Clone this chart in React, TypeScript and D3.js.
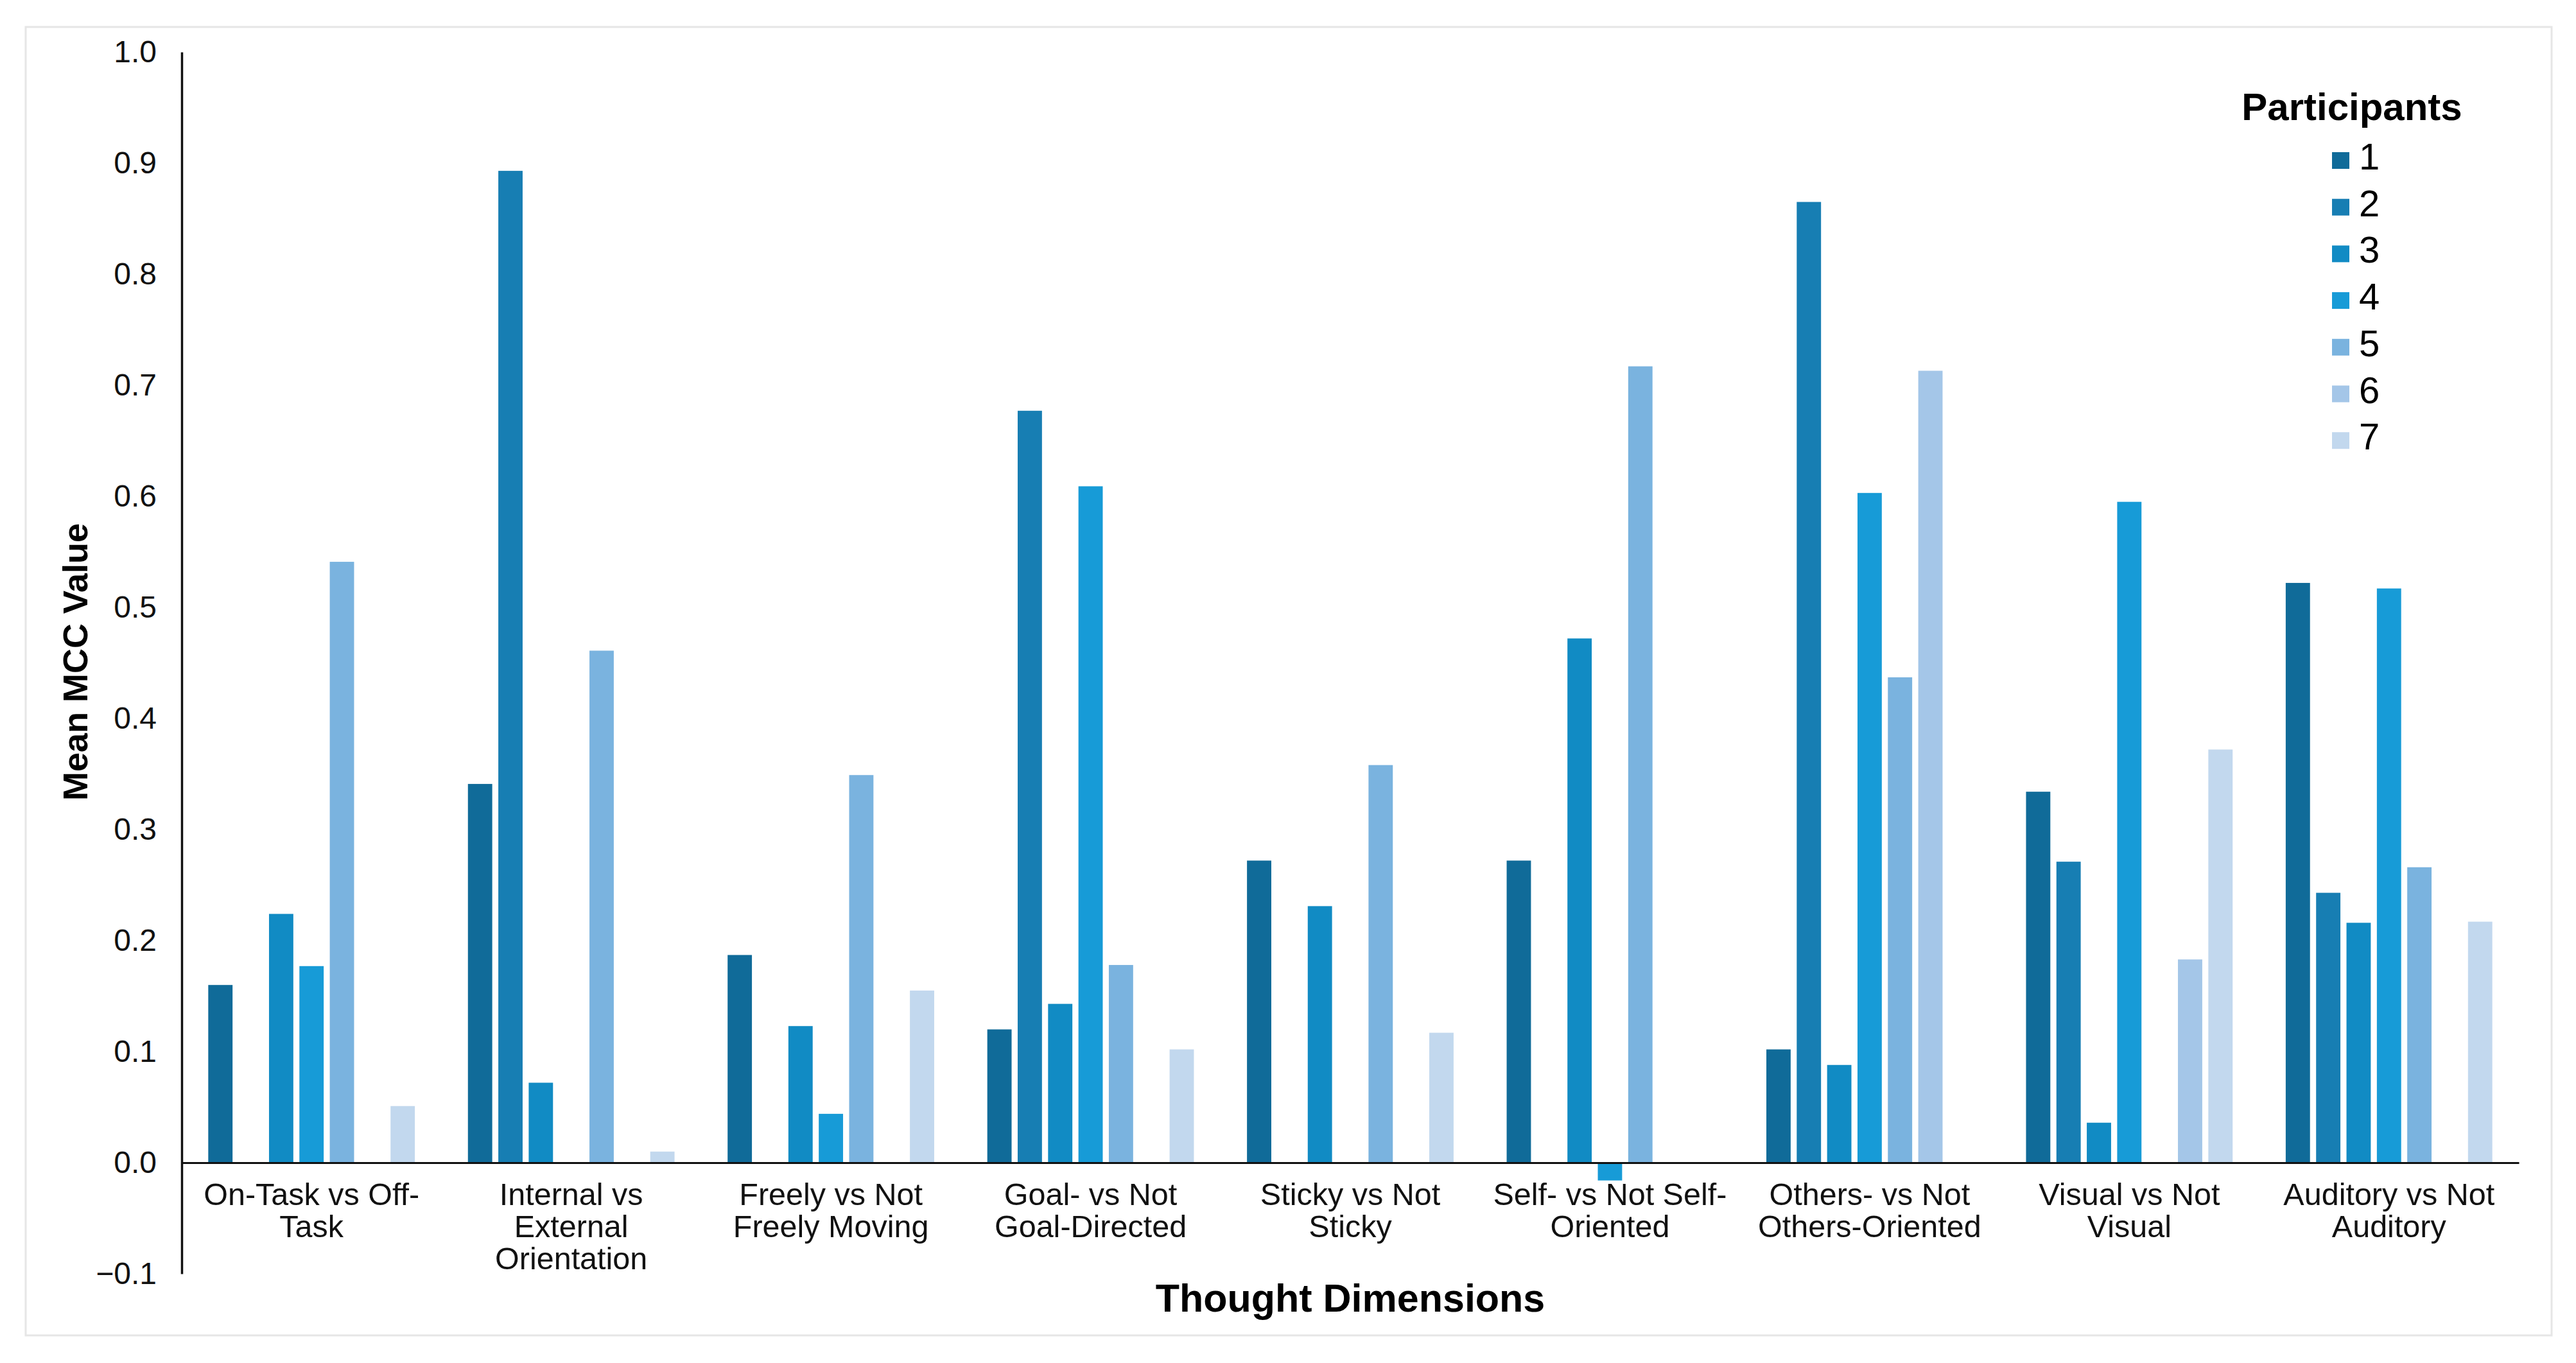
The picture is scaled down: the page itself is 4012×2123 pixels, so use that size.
import { useEffect, useRef } from 'react'
import * as d3 from 'd3'

const WIDTH = 4012
const HEIGHT = 2123

const CATEGORIES = [
  'On-Task vs Off-Task',
  'Internal vs External Orientation',
  'Freely vs Not Freely Moving',
  'Goal- vs Not Goal-Directed',
  'Sticky vs Not Sticky',
  'Self- vs Not Self-Oriented',
  'Others- vs Not Others-Oriented',
  'Visual vs Not Visual',
  'Auditory vs Not Auditory',
]

// line breaks as they appear under the axis
const CATEGORY_LINES = [
  ['On-Task vs Off-', 'Task'],
  ['Internal vs', 'External', 'Orientation'],
  ['Freely vs Not', 'Freely Moving'],
  ['Goal- vs Not', 'Goal-Directed'],
  ['Sticky vs Not', 'Sticky'],
  ['Self- vs Not Self-', 'Oriented'],
  ['Others- vs Not', 'Others-Oriented'],
  ['Visual vs Not', 'Visual'],
  ['Auditory vs Not', 'Auditory'],
]

const PARTICIPANTS = ['1', '2', '3', '4', '5', '6', '7']

// null = no bar drawn for that participant
const P1 = [0.16, 0.341, 0.187, 0.12, 0.272, 0.272, 0.102, 0.334, 0.522]
const P2 = [null, 0.893, null, 0.677, null, null, 0.865, 0.271, 0.243]
const P3 = [0.224, 0.072, 0.123, 0.143, 0.231, 0.472, 0.088, 0.036, 0.216]
const P4 = [0.177, null, 0.044, 0.609, null, -0.016, 0.603, 0.595, 0.517]
const P5 = [0.541, 0.461, 0.349, 0.178, 0.358, 0.717, 0.437, null, 0.266]
const P6 = [null, null, null, null, null, null, 0.713, 0.183, null]
const P7 = [0.051, 0.01, 0.155, 0.102, 0.117, null, null, 0.372, 0.217]

const SERIES = [P1, P2, P3, P4, P5, P6, P7]

const COLORS = ['#106b99', '#177eb3', '#118bc4', '#179bd7', '#7ab3df', '#a4c6e8', '#c2d8ee']

const Y_TICKS = [-0.1, 0, 0.1, 0.2, 0.3, 0.4, 0.5, 0.6, 0.7, 0.8, 0.9, 1.0]

const FONT = '"Liberation Sans", Arial, Helvetica, sans-serif'

interface BarDatum {
  category: string
  participant: string
  value: number
  color: string
}

export default function App() {
  const svgRef = useRef<SVGSVGElement | null>(null)

  useEffect(() => {
    if (!svgRef.current) {
      return
    }

    const svg = d3.select(svgRef.current)
    svg.selectAll('*').remove()

    const plotLeft = 283
    const plotRight = 3923

    const x0 = d3
      .scaleBand<string>()
      .domain(CATEGORIES)
      .range([plotLeft, plotRight])
      .paddingInner(0.181)
      .paddingOuter(0.0905)

    const x1 = d3
      .scaleBand<string>()
      .domain(PARTICIPANTS)
      .range([0, x0.bandwidth()])
      .paddingInner(0.2)
      .paddingOuter(0.1)

    const y = d3.scaleLinear().domain([-0.1, 1.0]).range([1984, 81])

    // outer frame
    svg
      .append('rect')
      .attr('x', 40)
      .attr('y', 42)
      .attr('width', 3934)
      .attr('height', 2038)
      .attr('fill', '#ffffff')
      .attr('stroke', '#e6e6e6')
      .attr('stroke-width', 3)

    const bars: BarDatum[] = []
    SERIES.forEach((values, si) => {
      values.forEach((value, ci) => {
        if (value === null) return
        bars.push({
          category: CATEGORIES[ci],
          participant: PARTICIPANTS[si],
          value,
          color: COLORS[si],
        })
      })
    })

    svg
      .append('g')
      .selectAll('rect.bar')
      .data(bars)
      .enter()
      .append('rect')
      .attr('class', 'bar')
      .attr('x', (d: BarDatum) => (x0(d.category) ?? 0) + (x1(d.participant) ?? 0))
      .attr('y', (d: BarDatum) => y(Math.max(d.value, 0)))
      .attr('width', x1.bandwidth())
      .attr('height', (d: BarDatum) => Math.abs(y(d.value) - y(0)))
      .attr('fill', (d: BarDatum) => d.color)

    // y axis
    const yAxis = svg
      .append('g')
      .attr('transform', `translate(${plotLeft}, 0)`)
      .call(
        d3
          .axisLeft(y)
          .tickValues(Y_TICKS)
          .tickSize(0)
          .tickPadding(39)
          .tickFormat(d3.format('.1f')),
      )
    yAxis.select('.domain').attr('stroke', '#111').attr('stroke-width', 3.5)
    yAxis
      .selectAll('text')
      .attr('font-family', FONT)
      .attr('font-size', 48)
      .attr('fill', '#111')

    // x axis line at zero
    const xAxis = svg
      .append('g')
      .attr('transform', `translate(0, ${y(0)})`)
      .call(d3.axisBottom(x0).tickSize(0).tickSizeOuter(0).tickFormat(() => ''))
    xAxis.select('.domain').attr('stroke', '#111').attr('stroke-width', 3)

    const labels = svg
      .append('g')
      .selectAll('text.cat-label')
      .data(CATEGORIES)
      .enter()
      .append('text')
      .attr('class', 'cat-label')
      .attr('text-anchor', 'middle')
      .attr('font-family', FONT)
      .attr('font-size', 48.5)
      .attr('fill', '#111')

    labels.each(function (this: SVGTextElement, cat: string, i: number) {
      const cx = (x0(cat) ?? 0) + x0.bandwidth() / 2
      d3.select(this)
        .selectAll('tspan')
        .data(CATEGORY_LINES[i])
        .enter()
        .append('tspan')
        .attr('x', cx)
        .attr('y', (_: string, li: number) => 1877 + li * 50)
        .text((line: string) => line)
    })

    // axis titles
    svg
      .append('text')
      .attr('x', (plotLeft + plotRight) / 2)
      .attr('y', 2043)
      .attr('text-anchor', 'middle')
      .attr('font-family', FONT)
      .attr('font-size', 61)
      .attr('font-weight', 700)
      .attr('fill', '#000')
      .text('Thought Dimensions')

    svg
      .append('text')
      .attr('transform', 'translate(136, 1031) rotate(-90)')
      .attr('text-anchor', 'middle')
      .attr('font-family', FONT)
      .attr('font-size', 54)
      .attr('font-weight', 700)
      .attr('fill', '#000')
      .text('Mean MCC Value')

    // legend
    const legend = svg.append('g')
    legend
      .append('text')
      .attr('x', 3663)
      .attr('y', 187)
      .attr('text-anchor', 'middle')
      .attr('font-family', FONT)
      .attr('font-size', 60)
      .attr('font-weight', 700)
      .attr('fill', '#000')
      .text('Participants')

    const items = legend
      .selectAll('g.legend-item')
      .data(PARTICIPANTS)
      .enter()
      .append('g')
      .attr('class', 'legend-item')
      .attr('transform', (_: string, i: number) => `translate(3632, ${237 + i * 72.7})`)

    items
      .append('rect')
      .attr('width', 27)
      .attr('height', 26)
      .attr('fill', (_: string, i: number) => COLORS[i])

    items
      .append('text')
      .attr('x', 42)
      .attr('y', 27)
      .attr('font-family', FONT)
      .attr('font-size', 58)
      .attr('fill', '#000')
      .text((d: string) => d)
  }, [])

  return (
    <svg
      ref={svgRef}
      width={WIDTH}
      height={HEIGHT}
      viewBox={`0 0 ${WIDTH} ${HEIGHT}`}
      style={{ position: 'absolute', left: 0, top: 0, background: '#fff' }}
    />
  )
}
